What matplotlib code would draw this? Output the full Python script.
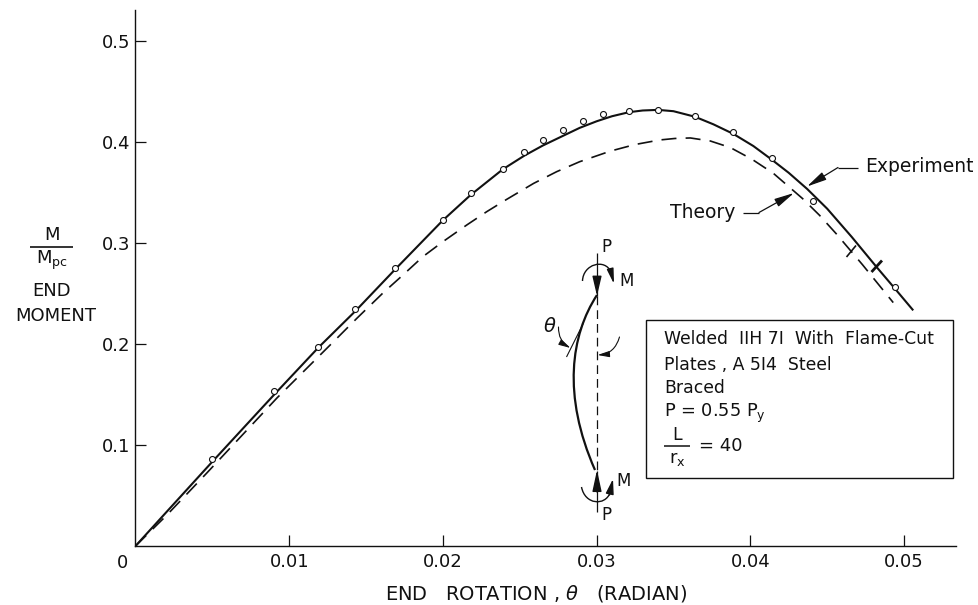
"""End moment vs end rotation: welded 11H71 beam-column, experiment against theory."""
import matplotlib
matplotlib.use("Agg")
import matplotlib.pyplot as plt
from matplotlib.patches import FancyArrowPatch, PathPatch, Rectangle
from matplotlib.path import Path
from matplotlib.transforms import Affine2D

# Experiment curve
exp_x = [0, 0.0050, 0.0090, 0.0119, 0.0143, 0.0169, 0.0200, 0.0218, 0.0239, 0.0253, 0.0265,
         0.0278, 0.0289, 0.0300, 0.0310, 0.0321, 0.0330, 0.0340, 0.0350, 0.0364, 0.0376,
         0.0389, 0.0402, 0.0414, 0.0425, 0.0437, 0.0450, 0.0466, 0.0482, 0.0494, 0.0506]
exp_y = [0, 0.0835, 0.1495, 0.1965, 0.2325, 0.2740, 0.3225, 0.3475, 0.3730, 0.3865, 0.3965,
         0.4060, 0.4140, 0.4205, 0.4255, 0.4295, 0.4312, 0.4318, 0.4305, 0.4250, 0.4175,
         0.4080, 0.3960, 0.3825, 0.3695, 0.3535, 0.3340, 0.3060, 0.2765, 0.2550, 0.2333]

# Experiment test points
pts_x = [0.0050, 0.0090, 0.0119, 0.0143, 0.0169, 0.0200, 0.0218, 0.0239, 0.0253, 0.0265,
         0.0278, 0.0291, 0.0304, 0.0321, 0.0340, 0.0364, 0.0389, 0.0414, 0.0441, 0.0494]
pts_y = [0.0861, 0.1538, 0.1970, 0.2347, 0.2750, 0.3228, 0.3500, 0.3730, 0.3900, 0.4020,
         0.4120, 0.4210, 0.4280, 0.4307, 0.4320, 0.4260, 0.4100, 0.3840, 0.3420, 0.2565]

# Theory curve
th_x = [0, 0.0020, 0.00466, 0.0092, 0.0131, 0.0144, 0.0161, 0.0174, 0.0187, 0.0200, 0.02155,
        0.02285, 0.02415, 0.0259, 0.0274, 0.0289, 0.0309, 0.0325, 0.0341, 0.0351, 0.0361,
        0.0374, 0.0387, 0.0401, 0.0415, 0.0434, 0.0445, 0.0456, 0.0473, 0.0493]
th_y = [0, 0.0300, 0.0726, 0.1465, 0.2056, 0.2254, 0.2505, 0.2683, 0.2865, 0.3013, 0.3178,
        0.3310, 0.3432, 0.3590, 0.3706, 0.3805, 0.3910, 0.3975, 0.4020, 0.4035, 0.4040,
        0.4010, 0.3945, 0.3830, 0.3690, 0.3440, 0.3275, 0.3090, 0.2785, 0.2410]

x_ticks = [0.01, 0.02, 0.03, 0.04, 0.05]
x_labels = ["0.01", "0.02", "0.03", "0.04", "0.05"]
y_ticks = [0.1, 0.2, 0.3, 0.4, 0.5]
y_labels = ["0.1", "0.2", "0.3", "0.4", "0.5"]

INK = "#111111"
plt.rcParams["font.family"] = ["DejaVu Sans"]
plt.rcParams["mathtext.fontset"] = "dejavusans"

W, H = 979, 605
fig = plt.figure(figsize=(W / 100, H / 100), dpi=100, facecolor="white")
ax = fig.add_axes([135.5 / W, (H - 546) / H, (956 - 135.5) / W, (546 - 10) / H])
ax.set_xlim(0, (956 - 135.5) / 15370)
ax.set_ylim(0, (546 - 10) / 1010)

# picture pixels, origin top left, for the drawn-in schematic and notes
px = Affine2D().scale(1, -1).translate(0, H)

ax.plot(exp_x, exp_y, color=INK, lw=1.5, solid_capstyle="butt", solid_joinstyle="round")
ax.plot(th_x, th_y, color=INK, lw=1.2, linestyle=(0, (9, 5.5)), dash_capstyle="butt")
ax.plot(pts_x, pts_y, "o", ms=4.3, mfc="white", mec=INK, mew=0.8, zorder=5, clip_on=False)

for side in ("top", "right"):
    ax.spines[side].set_visible(False)
for side in ("left", "bottom"):
    ax.spines[side].set_linewidth(1.0)
    ax.spines[side].set_color(INK)
ax.set_xticks(x_ticks, x_labels)
ax.set_yticks(y_ticks, y_labels)
ax.tick_params(direction="in", length=8, width=0.9, color=INK, labelcolor=INK, labelsize=13)
ax.tick_params(axis="x", pad=5)
ax.tick_params(axis="y", pad=4)


def note(x, y, s, size=13, ha="center", **kw):
    ax.text(x, y, s, transform=px, fontsize=size, ha=ha, va="center", color=INK, clip_on=False, **kw)


def line(xs, ys, lw=1.0, **kw):
    ax.plot(xs, ys, transform=px, color=INK, lw=lw, clip_on=False, solid_capstyle="butt", **kw)


def bend(p0, c1, c2, p3, lw=1.0):
    codes = [Path.MOVETO, Path.CURVE4, Path.CURVE4, Path.CURVE4]
    ax.add_patch(PathPatch(Path([p0, c1, c2, p3], codes), transform=px, fill=False, ec=INK, lw=lw, clip_on=False))


def arrow(start, end, rad=0.0, lw=1.0, length=9, half=2.2):
    # head sizes in points
    style = f"-|>,head_length={length / 10},head_width={half / 10}"
    ax.add_patch(FancyArrowPatch(start, end, transform=px, arrowstyle=style,
                                 connectionstyle=f"arc3,rad={rad}", color=INK, lw=lw,
                                 mutation_scale=10, shrinkA=0, shrinkB=0, clip_on=False, zorder=6))


# zero label and axis titles
note(122.5, 563, "0")
note(536, 593, r"END   ROTATION , $\theta$   (RADIAN)", size=14)
note(51.5, 235, "M", size=13)
line([30, 73], [246.5, 246.5], lw=1.2)
note(52, 260, r"M$_{\mathrm{pc}}$", size=13)
note(51.5, 291, "END", size=13)
note(55.5, 316, "MOMENT", size=13)

# curve callouts
note(865, 167, "Experiment", size=13.5, ha="left")
note(670, 213, "Theory", size=13.5, ha="left")
line([858, 838], [167.5, 167.5], lw=0.9)
arrow((838, 167.5), (807, 186.5), lw=0.9, length=12, half=2.6)
line([743, 759], [212.5, 212.5], lw=0.9)
arrow((759, 212.5), (794, 193), lw=0.9, length=12, half=2.6)

# marks across the curves
line([846.5, 856], [257, 245.5], lw=1.2)
line([871.5, 882], [272, 260.5], lw=2.0)

# column schematic
line([596.7, 596.7], [253, 296], lw=0.9)
line([596.7, 596.7], [296, 471], lw=0.9, linestyle=(0, (7, 4)))
line([596.7, 596.7], [471, 512], lw=0.9)
bend((597, 295), (571, 335), (562, 395), (595, 470), lw=1.6)
line([583.5, 566.5], [323, 357], lw=0.8)
arrow((597, 279), (597, 296), lw=1.0, length=12, half=2.8)
arrow((597, 492), (597, 470), lw=1.0, length=13, half=2.8)
bend((582.5, 281), (583, 264), (605, 258), (611, 272), lw=1.0)
arrow((610.5, 270), (614, 284), lw=1.0, length=9, half=2.0)
bend((581.5, 487), (585, 505), (605, 506), (610, 493), lw=1.0)
arrow((609.5, 495), (613, 479), lw=1.0, length=9, half=2.4)
arrow((558.5, 327), (570.5, 348), rad=0.3, lw=0.8, length=7, half=1.8)
arrow((619.5, 337), (597.5, 355), rad=-0.35, lw=0.8, length=7, half=1.8)
note(606.5, 247.5, "P", size=12)
note(626.5, 281, "M", size=12)
note(623.5, 481, "M", size=12)
note(606.5, 515, "P", size=12)
note(550, 326, r"$\theta$", size=14)

# description box
ax.add_patch(Rectangle((646, 320), 306.5, 158, transform=px, fill=False, ec=INK, lw=1.0, clip_on=False))
note(664, 339, "Welded  IIH 7I  With  Flame-Cut", size=12.4, ha="left")
note(664, 365, "Plates , A 5I4  Steel", size=12.4, ha="left")
note(664, 388, "Braced", size=12.4, ha="left")
note(664, 413, r"P = 0.55 P$_{\mathrm{y}}$", size=12.8, ha="left")
note(677, 435, "L", size=12.4)
line([664, 690], [445.5, 445.5], lw=1.1)
note(677, 459, r"r$_{\mathrm{x}}$", size=13)
note(699, 446, "= 40", size=13, ha="left")

fig.savefig("out.png", dpi=100)
